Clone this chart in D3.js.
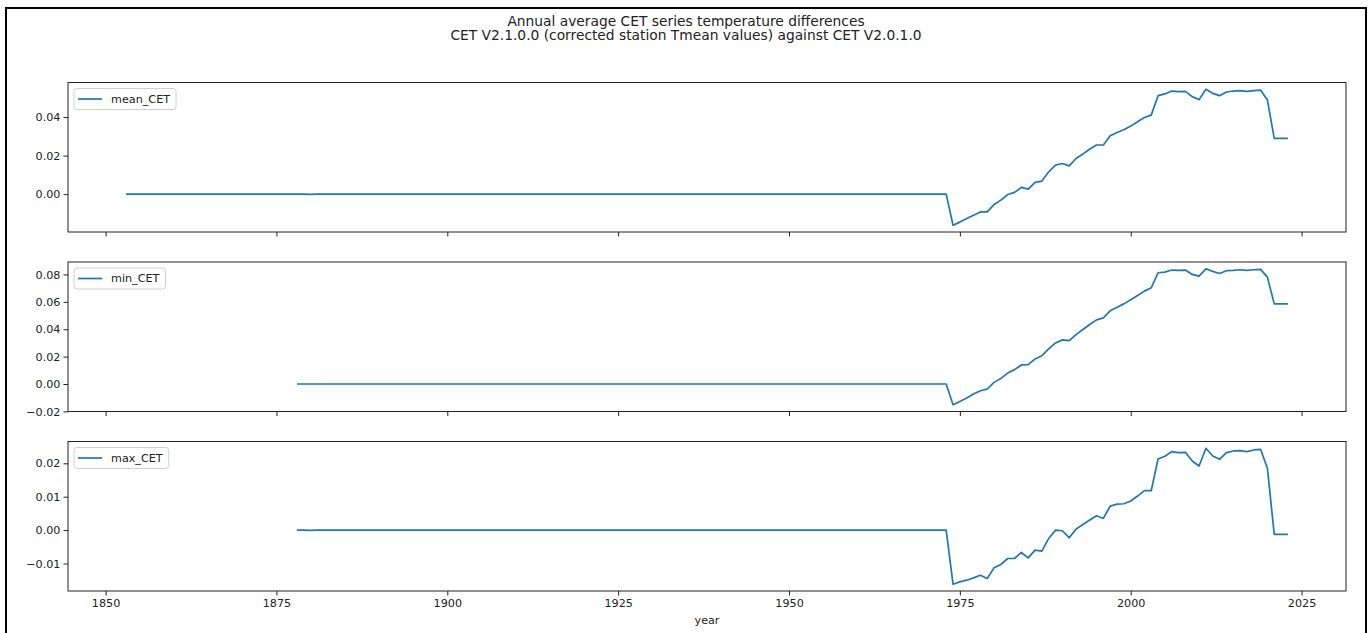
<!DOCTYPE html>
<html>
<head>
<meta charset="utf-8">
<script src="https://cdn.jsdelivr.net/npm/d3@7"></script>
<style>
    body { margin: 0; background: #fff; }
    text { font-family: "DejaVu Sans", sans-serif; fill: #222; }
</style>
</head>
<body>
<div id="chart"></div>
<script>
// series start years (all series run to 2023)
var meanStart = 1853;
var minStart = 1878;
var maxStart = 1878;

// mean_CET, 1853-2023
var meanCET = [
    0, 0, 0, 0, 0, 0, 0,                                   // 1853-1859
    0, 0, 0, 0, 0, 0, 0, 0, 0, 0,                          // 1860s
    0, 0, 0, 0, 0, 0, 0, 0, 0, 0,                          // 1870s
    -0.0001, 0, 0, 0, 0, 0, 0, 0, 0, 0,                    // 1880s
    0, 0, 0, 0, 0, 0, 0, 0, 0, 0,                          // 1890s
    0, 0, 0, 0, 0, 0, 0, 0, 0, 0,                          // 1900s
    0, 0, 0, 0, 0, 0, 0, 0, 0, 0,                          // 1910s
    0, 0, 0, 0, 0, 0, 0, 0, 0, 0,                          // 1920s
    0, 0, 0, 0, 0, 0, 0, 0, 0, 0,                          // 1930s
    0, 0, 0, 0, 0, 0, 0, 0, 0, 0,                          // 1940s
    0, 0, 0, 0, 0, 0, 0, 0, 0, 0,                          // 1950s
    0, 0, 0, 0, 0, 0, 0, 0, 0, 0,                          // 1960s
    0, 0, 0, 0, -0.0161, -0.0145, -0.0126, -0.0109, -0.0092, -0.0092,
    -0.0054, -0.0031, -0.0002, 0.0009, 0.0035, 0.0026, 0.0061, 0.0068, 0.0116, 0.0151,
    0.0159, 0.0147, 0.0185, 0.0208, 0.0234, 0.0255, 0.0255, 0.0303, 0.0320, 0.0334,
    0.0353, 0.0376, 0.0398, 0.0410, 0.0511, 0.0520, 0.0535, 0.0532, 0.0533, 0.0506,
    0.0490, 0.0544, 0.0523, 0.0511, 0.0530, 0.0535, 0.0537, 0.0533, 0.0537, 0.0540,
    0.0488, 0.0289, 0.0289, 0.0289
];

// min_CET, 1878-2023
var minCET = [
    0, 0,                                                  // 1878-1879
    0, 0, 0, 0, 0, 0, 0, 0, 0, 0,                          // 1880s
    0, 0, 0, 0, 0, 0, 0, 0, 0, 0,                          // 1890s
    0, 0, 0, 0, 0, 0, 0, 0, 0, 0,                          // 1900s
    0, 0, 0, 0, 0, 0, 0, 0, 0, 0,                          // 1910s
    0, 0, 0, 0, 0, 0, 0, 0, 0, 0,                          // 1920s
    0, 0, 0, 0, 0, 0, 0, 0, 0, 0,                          // 1930s
    0, 0, 0, 0, 0, 0, 0, 0, 0, 0,                          // 1940s
    0, 0, 0, 0, 0, 0, 0, 0, 0, 0,                          // 1950s
    0, 0, 0, 0, 0, 0, 0, 0, 0, 0,                          // 1960s
    0, 0, 0, 0, -0.0151, -0.0127, -0.0102, -0.0073, -0.0049, -0.0037,
    0.0012, 0.0041, 0.0080, 0.0105, 0.0139, 0.0141, 0.0183, 0.0207, 0.0256, 0.0300,
    0.0322, 0.0317, 0.0361, 0.0398, 0.0434, 0.0468, 0.0483, 0.0534, 0.0561, 0.0585,
    0.0615, 0.0646, 0.0678, 0.0702, 0.0812, 0.0817, 0.0832, 0.0829, 0.0832, 0.0800,
    0.0788, 0.0841, 0.0822, 0.0807, 0.0827, 0.0829, 0.0834, 0.0829, 0.0834, 0.0837,
    0.0780, 0.0585, 0.0585, 0.0585
];

// max_CET, 1878-2023
var maxCET = [
    0, 0,                                                  // 1878-1879
    -0.0001, 0, 0, 0, 0, 0, 0, 0, 0, 0,                    // 1880s
    0, 0, 0, 0, 0, 0, 0, 0, 0, 0,                          // 1890s
    0, 0, 0, 0, 0, 0, 0, 0, 0, 0,                          // 1900s
    0, 0, 0, 0, 0, 0, 0, 0, 0, 0,                          // 1910s
    0, 0, 0, 0, 0, 0, 0, 0, 0, 0,                          // 1920s
    0, 0, 0, 0, 0, 0, 0, 0, 0, 0,                          // 1930s
    0, 0, 0, 0, 0, 0, 0, 0, 0, 0,                          // 1940s
    0, 0, 0, 0, 0, 0, 0, 0, 0, 0,                          // 1950s
    0, 0, 0, 0, 0, 0, 0, 0, 0, 0,                          // 1960s
    0, 0, 0, 0, -0.0162, -0.0155, -0.0150, -0.0143, -0.0135, -0.0145,
    -0.0113, -0.0103, -0.0085, -0.0085, -0.0067, -0.0083, -0.0060, -0.0063, -0.0025, 0.0000,
    -0.0002, -0.0023, 0.0003, 0.0017, 0.0030, 0.0043, 0.0035, 0.0072, 0.0078, 0.0079,
    0.0087, 0.0102, 0.0118, 0.0118, 0.0213, 0.0221, 0.0235, 0.0232, 0.0233, 0.0207,
    0.0192, 0.0245, 0.0222, 0.0212, 0.0232, 0.0237, 0.0238, 0.0235, 0.0240, 0.0242,
    0.0185, -0.0013, -0.0013, -0.0013
];

var seriesNames = ['mean_CET', 'min_CET', 'max_CET'];
var xTicks = [1850, 1875, 1900, 1925, 1950, 1975, 2000, 2025];
var yTicks = [
    [0.00, 0.02, 0.04],
    [-0.02, 0.00, 0.02, 0.04, 0.06, 0.08],
    [-0.01, 0.00, 0.01, 0.02]
];
var titleLines = [
    'Annual average CET series temperature differences',
    'CET V2.1.0.0 (corrected station Tmean values) against CET V2.0.1.0'
];

(function(){
    var width = 1369;
    var height = 633;

    var margin = { left: 68, right: 23, top: 82.5 };
    var panelH = 149.5;
    var panelGap = 30;
    var lineColour = '#2277b2';
    var fmt = d3.format('.2f');

    var svg = d3.select('#chart')
        .append('svg')
            .attr('width', width)
            .attr('height', height);

    // outer figure frame
    svg.append('rect')
        .attr('x', 6)
        .attr('y', 8)
        .attr('width', 1360)
        .attr('height', 700)
        .attr('fill', 'none')
        .attr('stroke', '#000')
        .attr('stroke-width', 2);

    svg.selectAll('.title')
        .data(titleLines)
        .enter()
        .append('text')
        .attr('class', 'title')
        .attr('x', 686)
        .attr('y', function(d, i){ return 25.5 + i * 14.5; })
        .attr('text-anchor', 'middle')
        .style('font-size', '13.8px')
        .text(function(d){ return d; });

    var series = [
        { name: seriesNames[0], start: meanStart, values: meanCET },
        { name: seriesNames[1], start: minStart, values: minCET },
        { name: seriesNames[2], start: maxStart, values: maxCET }
    ].map(function(s){
        s.points = s.values.map(function(v, i){ return { year: s.start + i, value: v }; });
        return s;
    });

    // shared x, padded 5% like matplotlib
    var allYears = d3.merge(series.map(function(s){ return s.points.map(function(p){ return p.year; }); }));
    var xExt = d3.extent(allYears);
    var xPad = (xExt[1] - xExt[0]) * 0.05;
    var xScale = d3.scaleLinear()
        .domain([xExt[0] - xPad, xExt[1] + xPad])
        .range([margin.left, width - margin.right]);

    series.forEach(function(s, k){
        var top = margin.top + k * (panelH + panelGap);
        var yExt = d3.extent(s.values);
        var yPad = (yExt[1] - yExt[0]) * 0.05;
        var yScale = d3.scaleLinear()
            .domain([yExt[0] - yPad, yExt[1] + yPad])
            .range([top + panelH, top]);

        var g = svg.append('g').attr('class', 'panel');

        var line = d3.line()
            .x(function(d){ return xScale(d.year); })
            .y(function(d){ return yScale(d.value); });

        g.append('path')
            .datum(s.points)
            .attr('d', line)
            .attr('fill', 'none')
            .attr('stroke', lineColour)
            .attr('stroke-width', 1.7)
            .attr('stroke-linejoin', 'round');

        var yAxis = d3.axisLeft(yScale)
            .tickValues(yTicks[k])
            .tickFormat(fmt)
            .tickSizeInner(4.5)
            .tickSizeOuter(0)
            .tickPadding(3);

        g.append('g')
            .attr('class', 'y axis')
            .attr('transform', 'translate(' + margin.left + ',0)')
            .call(yAxis)
            .call(function(a){ a.select('.domain').remove(); });

        var xAxis = d3.axisBottom(xScale)
            .tickValues(xTicks)
            .tickFormat(k == 2 ? d3.format('d') : function(){ return ''; })
            .tickSizeInner(4.5)
            .tickSizeOuter(0)
            .tickPadding(4);

        g.append('g')
            .attr('class', 'x axis')
            .attr('transform', 'translate(0,' + (top + panelH) + ')')
            .call(xAxis)
            .call(function(a){ a.select('.domain').remove(); });

        g.selectAll('.axis text')
            .style('font-size', '11.2px')
            .attr('fill', '#222');
        g.selectAll('.axis line')
            .attr('stroke', '#222');

        // spines
        g.append('rect')
            .attr('x', margin.left)
            .attr('y', top)
            .attr('width', width - margin.right - margin.left)
            .attr('height', panelH)
            .attr('fill', 'none')
            .attr('stroke', '#222')
            .attr('stroke-width', 1);

        // legend, upper left
        var legend = g.append('g')
            .attr('class', 'legend')
            .attr('transform', 'translate(' + (margin.left + 6) + ',' + (top + 6) + ')');

        var box = legend.append('rect')
            .attr('height', 21)
            .attr('rx', 3)
            .attr('fill', '#fff')
            .attr('fill-opacity', 0.8)
            .attr('stroke', '#d0d0d0')
            .attr('stroke-width', 1);

        legend.append('line')
            .attr('x1', 4)
            .attr('x2', 28)
            .attr('y1', 10.5)
            .attr('y2', 10.5)
            .attr('stroke', lineColour)
            .attr('stroke-width', 1.7);

        var label = legend.append('text')
            .attr('x', 37)
            .attr('y', 10.5)
            .attr('dy', '0.35em')
            .style('font-size', '11.2px')
            .text(s.name);

        box.attr('width', 37 + label.node().getComputedTextLength() + 6);
    });

    svg.append('text')
        .attr('x', (margin.left + width - margin.right) / 2)
        .attr('y', 624)
        .attr('text-anchor', 'middle')
        .style('font-size', '11.2px')
        .text('year');
})();
</script>
</body>
</html>
